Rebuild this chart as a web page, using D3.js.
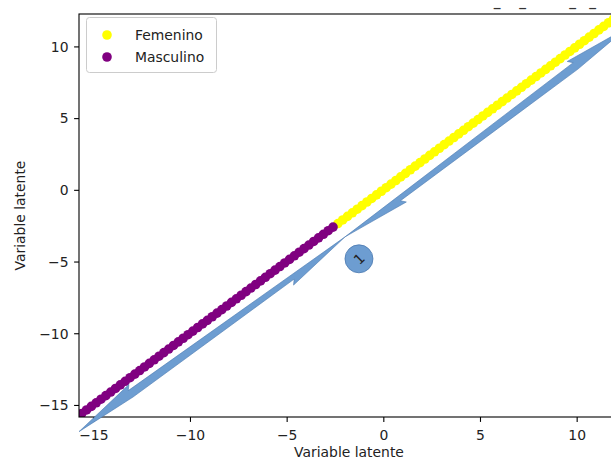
<!DOCTYPE html>
<html>
<head>
<meta charset="utf-8">
<script src="https://cdn.jsdelivr.net/npm/d3@7"></script>
<style>
  html, body { margin: 0; padding: 0; background: #fff; overflow: hidden; }
  svg { display: block; font-family: "DejaVu Sans", sans-serif; }
</style>
</head>
<body>
<svg id="chart" width="611" height="464"></svg>
<script>
// ---- data ----
const seriesNames = ["Femenino", "Masculino"];
const seriesColors = ["yellow", "purple"];
// latent variable values (plotted against themselves)
const femenino = [-2.35, -2.1, -1.85, -1.6, -1.35, -1.1, -0.85, -0.6, -0.35, -0.1,
  0.15, 0.4, 0.65, 0.9, 1.15, 1.4, 1.65, 1.9, 2.15, 2.4, 2.65, 2.9, 3.15, 3.4, 3.65,
  3.9, 4.15, 4.4, 4.65, 4.9, 5.15, 5.4, 5.65, 5.9, 6.15, 6.4, 6.65, 6.9, 7.15, 7.4,
  7.65, 7.9, 8.15, 8.4, 8.65, 8.9, 9.15, 9.4, 9.65, 9.9, 10.15, 10.4, 10.65, 10.9,
  11.15, 11.4, 11.65, 11.9, 12.15];
const masculino = [-15.6, -15.35, -15.1, -14.85, -14.6, -14.35, -14.1, -13.85, -13.6,
  -13.35, -13.1, -12.85, -12.6, -12.35, -12.1, -11.85, -11.6, -11.35, -11.1, -10.85,
  -10.6, -10.35, -10.1, -9.85, -9.6, -9.35, -9.1, -8.85, -8.6, -8.35, -8.1, -7.85,
  -7.6, -7.35, -7.1, -6.85, -6.6, -6.35, -6.1, -5.85, -5.6, -5.35, -5.1, -4.85, -4.6,
  -4.35, -4.1, -3.85, -3.6, -3.35, -3.1, -2.85, -2.6];
const xTicks = [-15, -10, -5, 0, 5, 10];
const yTicks = [-15, -10, -5, 0, 5, 10];
const xDomain = [-15.74, 12.19];
const yDomain = [-15.84, 12.26];
const axisLabelX = "Variable latente";
const axisLabelY = "Variable latente";
// annotation: arrows from a common point to two tips, and a circled label
const arrowFrom = [-1.98, -3.28];
const arrowTips = [[12.6, 11.3], [-15.74, -16.86]];
const annotLabel = "1";
const annotPos = [-1.26, -4.81];
// fragments of a cut-off title at the top
const topMarks = ["\u2212", "\u2212", "\u2212", "\u2212"];

// ---- layout ----
const W = 611, H = 464;
const L = 79, T = 14, R = 619, B = 417;
const FS = 13.9;
const svg = d3.select("#chart");
const x = d3.scaleLinear().domain(xDomain).range([L, R]);
const y = d3.scaleLinear().domain(yDomain).range([B, T]);
const fmt = v => (v < 0 ? "\u2212" + Math.abs(v) : "" + v);

svg.append("defs").append("clipPath").attr("id", "plotclip")
  .append("rect").attr("x", L).attr("y", T).attr("width", R - L).attr("height", B - T);

// points
const pts = svg.append("g").attr("clip-path", "url(#plotclip)");
[femenino, masculino].forEach((arr, i) => {
  pts.append("g").selectAll("circle").data(arr).join("circle")
    .attr("cx", d => x(d)).attr("cy", d => y(d)).attr("r", 4.8)
    .attr("fill", seriesColors[i]);
});

// axes
const xAxis = d3.axisBottom(x).tickValues(xTicks).tickFormat(fmt).tickSize(4.9).tickSizeOuter(0).tickPadding(4.9);
const yAxis = d3.axisLeft(y).tickValues(yTicks).tickFormat(fmt).tickSize(4.9).tickSizeOuter(0).tickPadding(4.9);
const gx = svg.append("g").attr("transform", `translate(0,${B})`).call(xAxis);
const gy = svg.append("g").attr("transform", `translate(${L},0)`).call(yAxis);
[gx, gy].forEach(g => {
  g.select(".domain").remove();
  g.selectAll(".tick line").attr("stroke", "#000").attr("stroke-width", 1.1);
  g.selectAll(".tick text").attr("fill", "#222").attr("font-size", FS)
    .attr("font-family", "DejaVu Sans");
});
gx.selectAll(".tick text").attr("dy", null).attr("y", 23);
gy.selectAll(".tick text").attr("x", -10.5).attr("dy", "0.35em");

// spines
svg.append("rect").attr("x", L).attr("y", T).attr("width", R - L).attr("height", B - T)
  .attr("stroke", "#000").attr("stroke-width", 1.1).attr("fill", "none");

// axis labels
svg.append("text").attr("x", (L + R) / 2).attr("y", 457).attr("text-anchor", "middle")
  .attr("font-size", FS).attr("fill", "#222").text(axisLabelX);
svg.append("text").attr("transform", `translate(25,${(T + B) / 2}) rotate(-90)`)
  .attr("text-anchor", "middle").attr("font-size", FS).attr("fill", "#222").text(axisLabelY);

// arrows
const arrowFill = "#6d9dd1", arrowStroke = "#4a78b0";
const c0 = [x(arrowFrom[0]), y(arrowFrom[1])];
arrowTips.forEach(tip => {
  const t1 = [x(tip[0]), y(tip[1])];
  const dx = t1[0] - c0[0], dy = t1[1] - c0[1];
  const len = Math.hypot(dx, dy);
  const u = [dx / len, dy / len];
  let n = [u[1], -u[0]];
  if (n[1] > 0) n = [-n[0], -n[1]];
  const hw = 4, hl = 64, bw = 8.5;
  const prof = [
    [0, 0], [len - hl, hw], [len - hl - 4, bw], [len, 0],
    [len - hl, -hw], [66, -hw], [70, -bw]
  ];
  const p = prof.map(([t, s]) => [c0[0] + u[0] * t + n[0] * s, c0[1] + u[1] * t + n[1] * s]);
  svg.append("path").attr("d", "M" + p.map(q => q.join(",")).join("L") + "Z")
    .attr("fill", arrowFill).attr("stroke", arrowStroke).attr("stroke-width", 0.6)
    .attr("stroke-linejoin", "miter");
});

// circled label
const ag = svg.append("g").attr("transform", `translate(${x(annotPos[0])},${y(annotPos[1])})`);
ag.append("circle").attr("r", 14).attr("fill", arrowFill).attr("stroke", arrowStroke).attr("stroke-width", 0.8);
ag.append("text").attr("transform", "rotate(-45)").attr("text-anchor", "middle").attr("dy", "0.36em")
  .attr("font-size", FS).attr("fill", "#222").text(annotLabel);

// legend
const lg = svg.append("g");
lg.append("rect").attr("x", 86.5).attr("y", 17.5).attr("width", 130).attr("height", 55).attr("rx", 3)
  .attr("fill", "#fff").attr("fill-opacity", 0.8).attr("stroke", "#ccc").attr("stroke-width", 1);
seriesNames.forEach((name, i) => {
  const cy = 35 + i * 22;
  lg.append("circle").attr("cx", 107).attr("cy", cy).attr("r", 4.8).attr("fill", seriesColors[i]);
  lg.append("text").attr("x", 135).attr("y", cy).attr("dy", "0.36em").attr("font-size", FS)
    .attr("fill", "#222").text(name);
});

// cut-off title marks at the top
const markX = [497, 522.5, 572.5, 592.5];
svg.append("g").selectAll("text").data(topMarks).join("text")
  .attr("x", (d, i) => markX[i]).attr("y", 11.8).attr("text-anchor", "middle").attr("font-size", 11)
  .attr("font-weight", "bold").attr("fill", "#333").text(d => d);
</script>
</body>
</html>
